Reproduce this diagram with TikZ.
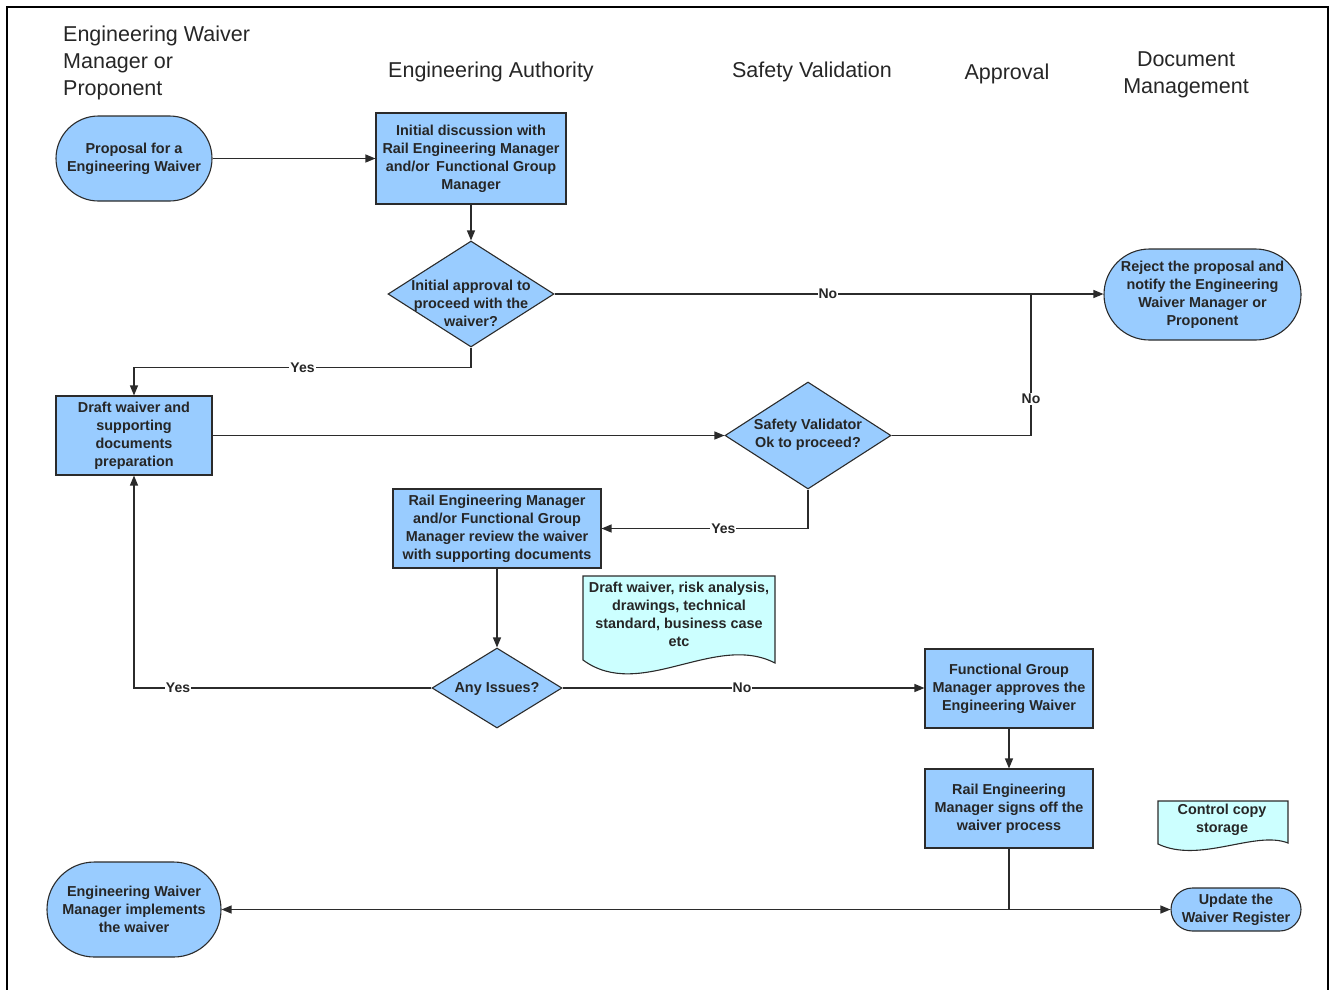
\documentclass[tikz,border=0pt]{standalone}
\usepackage{fontspec}
\setmainfont{Liberation Sans}
\usetikzlibrary{arrows.meta,shapes.geometric}
\definecolor{boxblue}{HTML}{99CCFF}
\definecolor{docfill}{HTML}{CCFFFF}
\definecolor{edgecol}{HTML}{2B2B2B}
\begin{document}
\begin{tikzpicture}[x=1pt,y=-1pt,
  every node/.style={font=\bfseries\fontsize{14.4}{18}\selectfont, text=black!85, align=center, inner sep=0pt},
  sz/.style 2 args={minimum width=#1pt, minimum height=#2pt},
  proc/.style={draw=edgecol, fill=boxblue, line width=1.1pt, rectangle},
  pill/.style={proc, rounded corners=#1},
  dia/.style={diamond, draw=edgecol, fill=boxblue, line width=1.1pt},
  docst/.style={draw=edgecol, fill=docfill, line width=1.1pt},
  hdr/.style={font=\fontsize{21.5}{27}\selectfont, text=black!85},
  line/.style={draw=edgecol, line width=1.2pt},
  conn/.style={line, -{Triangle[length=10pt,width=8pt]}},
  lbl/.style={fill=white, inner sep=1pt, font=\bfseries\fontsize{14}{16}\selectfont}
]
\useasboundingbox (0,0) rectangle (1330,989);
% frame
\draw[line width=2pt, black] (7,1000) -- (7,7) -- (1328,7) -- (1328,1000);

% headers
\node[hdr, align=left, anchor=west] (h1) at (63,63) {Engineering Waiver\\Manager or\\Proponent};
\node[hdr] (h2) at (491,72) {Engineering Authority};
\node[hdr] (h3) at (812,72) {Safety Validation};
\node[hdr] (h4) at (1007,74) {Approval};
\node[hdr] (h5) at (1186,74.5) {Document\\Management};

% nodes
\node[pill=42.5pt, sz={156}{85}] (prop) at (134,158.5) {Proposal for a\\Engineering Waiver};
\node[proc, sz={190}{91}] (init) at (471,158.5) {Initial discussion with\\Rail Engineering Manager\\and/or\, Functional Group\\Manager};
\node[dia, sz={166}{106}] (d1) at (471,294) {};
\node (d1t) at (471,303) {Initial approval to\\proceed with the\\waiver?};
\node[pill=45.5pt, sz={197}{91}] (rej) at (1202.5,294.5) {Reject the proposal and\\notify the Engineering\\Waiver Manager or\\Proponent};
\node[proc, sz={156}{79}] (draft) at (134,435.5) {Draft waiver and\\supporting\\documents\\preparation};
\node[dia, sz={166}{107}] (sv) at (808,435.5) {};
\node (svt) at (808,435) {Safety Validator\\Ok to proceed?};
\node[proc, sz={208}{79}] (rev) at (497,528.5) {Rail Engineering Manager\\and/or Functional Group\\Manager review the waiver\\with supporting documents};
\node[dia, sz={130}{80}] (ai) at (497,688) {};
\node (ait) at (497,689) {Any Issues?};
\node[proc, sz={168}{79}] (fg) at (1009,688.5) {Functional Group\\Manager approves the\\Engineering Waiver};
\node[proc, sz={168}{79}] (rs) at (1009,808.5) {Rail Engineering\\Manager signs off the\\waiver process};
\node[pill=47.5pt, sz={174}{95}] (ewi) at (134,909.5) {Engineering Waiver\\Manager implements\\the waiver};
\node[pill=21.5pt, sz={130}{43}] (upd) at (1236,909.5) {Update the\\Waiver Register};

% documents
\draw[docst] (583,576) -- (775,576) -- (775,663) .. controls (715,632) and (640,702) .. (583,660) -- cycle;
\node (doc1) at (679,614) {Draft waiver, risk analysis,\\drawings, technical\\standard, business case\\etc};
\draw[docst] (1158,801) -- (1288,801) -- (1288,843) .. controls (1255,830) and (1200,864) .. (1158,844) -- cycle;
\node (doc2) at (1222,820) {Control copy\\storage};

% connectors
\draw[conn] (prop.east) -- (prop.east -| init.west);
\draw[conn] (init) -- (d1);
\draw[conn] (d1.east) -- node[lbl, pos=0.498]{No} (d1.east -| rej.west);
\draw[conn] (d1.south) -- ++(0,20) -| node[lbl, pos=0.25]{Yes} (draft.north);
\draw[conn] (draft.east) -- (draft.east -| sv.west);
\coordinate (j1) at (1031,294);
\draw[line] (sv.east) -| node[lbl, pos=0.63]{No} (j1);
\draw[conn] (sv.south) |- node[lbl, pos=0.705]{Yes} (rev.east);
\draw[conn] (rev) -- (ai);
\draw[conn] (ai.west) -| node[lbl, pos=0.426]{Yes} (draft.south);
\draw[conn] (ai.east) -- node[lbl, pos=0.496]{No} (ai.east -| fg.west);
\draw[conn] (fg) -- (rs);
\coordinate (j2) at (1009,909.5);
\draw[line] (rs.south) -- (j2);
\draw[conn] (j2) -- (ewi.east);
\draw[conn] (j2) -- (upd.west);
\end{tikzpicture}
\end{document}
